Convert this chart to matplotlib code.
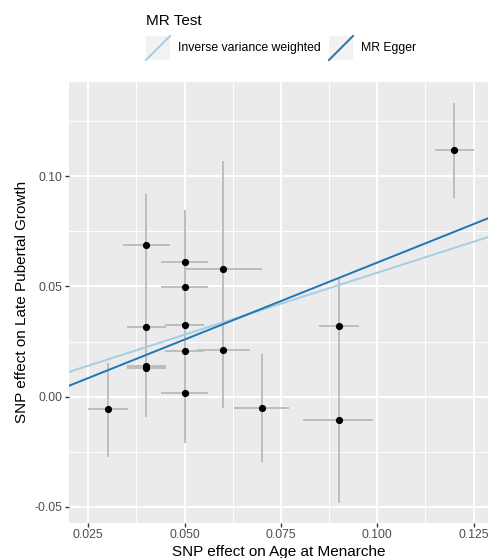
"""
MR scatter plot: SNP effect on Age at Menarche vs. Late Pubertal Growth
"""

import matplotlib

matplotlib.use("Agg")
import matplotlib.pyplot as plt
from matplotlib.lines import Line2D
from matplotlib.patches import Rectangle

plt.rcParams["font.family"] = ["Liberation Sans", "DejaVu Sans"]

# SNP effects (exposure / outcome) with their 95% CI ends
beta_exp = [0.030, 0.040, 0.040, 0.040, 0.040, 0.050, 0.050, 0.050, 0.050, 0.050,
            0.060, 0.060, 0.070, 0.090, 0.090, 0.120]
beta_out = [-0.0057, 0.0689, 0.0315, 0.0141, 0.0128, 0.0610, 0.0497, 0.0324, 0.0207, 0.0015,
            0.0578, 0.0210, -0.0051, 0.0320, -0.0106, 0.1117]
exp_lo = [0.0250, 0.0340, 0.0350, 0.0350, 0.0350, 0.0439, 0.0439, 0.0450, 0.0450, 0.0439,
          0.0501, 0.0531, 0.0628, 0.0848, 0.0807, 0.1150]
exp_hi = [0.0352, 0.0461, 0.0452, 0.0452, 0.0452, 0.0561, 0.0561, 0.0550, 0.0550, 0.0561,
          0.0701, 0.0670, 0.0771, 0.0952, 0.0990, 0.1252]
out_lo = [-0.0272, 0.0460, 0.0030, -0.0090, -0.0040, 0.0374, 0.0300, 0.0150, 0.0010, -0.0210,
          0.0086, -0.0050, -0.0296, 0.0105, -0.0480, 0.0900]
out_hi = [0.0155, 0.0918, 0.0600, 0.0350, 0.0300, 0.0846, 0.0700, 0.0500, 0.0400, 0.0240,
          0.1070, 0.0400, 0.0193, 0.0535, 0.0268, 0.1333]

# MR estimates: (intercept, slope)
methods = ["Inverse variance weighted", "MR Egger"]
intercepts = [0.0, -0.009]
slopes = [0.562, 0.698]
method_colors = ["#A6CEE3", "#1F78B4"]

x_ticks = [0.025, 0.050, 0.075, 0.100, 0.125]
x_minor = [0.0375, 0.0625, 0.0875, 0.1125]
y_ticks = [-0.05, 0.00, 0.05, 0.10]
y_minor = [-0.025, 0.025, 0.075, 0.125]

W, H = 489, 558
fig = plt.figure(figsize=(W / 100, H / 100), dpi=100)
ax = fig.add_axes([69 / W, 1 - 522.5 / H, 420 / W, (522.5 - 82.3) / H])
ax.set_facecolor("#EBEBEB")
for s in ax.spines.values():
    s.set_visible(False)

# grid (ggplot theme_grey look)
for v in x_minor:
    ax.axvline(v, color="white", lw=0.71, zorder=0)
for v in y_minor:
    ax.axhline(v, color="white", lw=0.71, zorder=0)
for v in x_ticks:
    ax.axvline(v, color="white", lw=1.42, zorder=0)
for v in y_ticks:
    ax.axhline(v, color="white", lw=1.42, zorder=0)

grey = "#BEBEBE"
ax.vlines(beta_exp, out_lo, out_hi, color=grey, lw=1.42, zorder=1)
ax.hlines(beta_out, exp_lo, exp_hi, color=grey, lw=1.42, zorder=1)
ax.plot(beta_exp, beta_out, "o", color="black", ms=5.2, mew=0, zorder=2)

for b0, b1, c in zip(intercepts, slopes, method_colors):
    ax.axline((0, b0), slope=b1, color=c, lw=1.42, zorder=3)

ax.set_xlim(0.0200, 0.1290)
ax.set_ylim(-0.05703, 0.14252)
ax.set_xticks(x_ticks)
ax.set_xticklabels(["0.025", "0.050", "0.075", "0.100", "0.125"])
ax.set_yticks(y_ticks)
ax.set_yticklabels(["-0.05", "0.00", "0.05", "0.10"])
ax.tick_params(length=2.75, width=1.0, color="#333333", labelcolor="#4D4D4D",
               labelsize=8.8, pad=2.2)

ax.set_xlabel("SNP effect on Age at Menarche", fontsize=11, labelpad=2.5)
ax.set_ylabel("SNP effect on Late Pubertal Growth", fontsize=11, labelpad=4)

# legend on top, drawn by hand in pixel coords
fig.text(145.7 / W, 1 - 21 / H, "MR Test", fontsize=11, va="center", ha="left")
key_x = [146, 329]
label_x = [177.7, 361]
k_top, k_size = 36, 24
for kx, lx, name, c in zip(key_x, label_x, methods, method_colors):
    fig.add_artist(Rectangle((kx / W, 1 - (k_top + k_size) / H), k_size / W, k_size / H,
                             transform=fig.transFigure, facecolor="#F2F2F2", edgecolor="none"))
    fig.add_artist(Line2D([kx / W, (kx + k_size) / W],
                          [1 - (k_top + k_size) / H, 1 - k_top / H],
                          transform=fig.transFigure, color=c, lw=1.42))
    fig.text(lx / W, 1 - (k_top + k_size / 2) / H, name, fontsize=8.8, va="center", ha="left")

fig.savefig("out.png", dpi=100)
